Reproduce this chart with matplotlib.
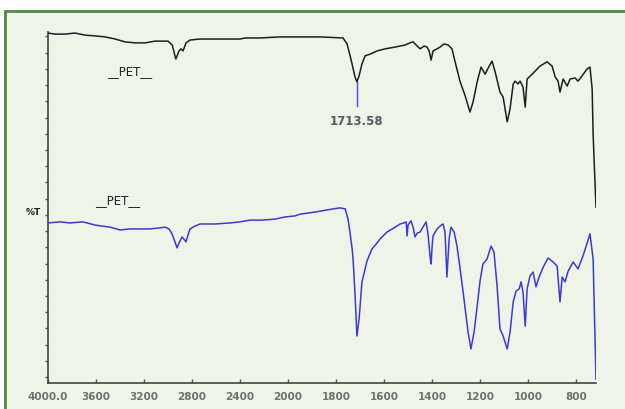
import numpy as np
import matplotlib
matplotlib.use("Agg")
import matplotlib.pyplot as plt
from matplotlib.patches import Rectangle

# ---- data ----
black_wn = [4000, 3940, 3860, 3775, 3690, 3610, 3525, 3440, 3360, 3275, 3190, 3110, 3040, 3000,
            2965, 2935, 2908, 2892, 2875, 2850, 2817, 2733, 2567, 2400, 2358, 2233, 2067, 1950,
            1867, 1771, 1754, 1738, 1721, 1713, 1704, 1692, 1679, 1658, 1629, 1596, 1554, 1512,
            1492, 1479, 1462, 1450, 1433, 1421, 1412, 1404, 1396, 1379, 1367, 1350, 1333,
            1317, 1304, 1283, 1262, 1242, 1229, 1212, 1196, 1179, 1162, 1150, 1137, 1117, 1104,
            1087, 1075, 1062, 1054, 1042, 1033, 1021, 1012, 1004, 983, 950, 921, 900, 887, 875,
            867, 854, 837, 825, 804, 792, 775, 754, 742, 733, 729, 725, 717]
black_t = [99.7, 99.4, 99.4, 99.7, 99.1, 98.9, 98.6, 98.0, 97.2, 96.9, 96.9, 97.4, 97.4, 97.4,
           96.3, 92.3, 94.6, 95.2, 94.6, 96.9, 97.7, 98.0, 98.0, 98.0, 98.3, 98.3, 98.6, 98.6,
           98.6, 98.3, 96.6, 92.3, 87.2, 85.8, 87.5, 90.9, 93.2, 93.7, 94.6, 95.2, 95.7, 96.3,
           96.9, 97.2, 96.0, 95.2, 96.0, 95.7, 94.6, 92.0, 94.6, 95.2, 95.7, 96.6, 96.3,
           95.2, 91.5, 85.8, 81.8, 77.2, 80.1, 85.8, 90.0, 88.0, 90.3, 91.7, 88.6, 82.9, 81.5,
           74.4, 78.1, 85.2, 86.0, 85.2, 86.0, 84.3, 78.6, 86.6, 88.0, 90.3, 91.5, 90.3, 87.2, 86.0,
           82.9, 86.6, 84.6, 86.6, 86.9, 86.0, 87.5, 89.5, 90.0, 83.8, 70.9, 63.8, 50.1]

blue_wn = [4000, 3900, 3817, 3708, 3608, 3483, 3400, 3317, 3233, 3150, 3067, 3025, 2992, 2967,
           2942, 2925, 2908, 2883, 2867, 2850, 2833, 2817, 2775, 2733, 2608, 2483, 2400, 2317,
           2217, 2108, 2025, 1971, 1950, 1888, 1812, 1783, 1762, 1750, 1742, 1733, 1729, 1721,
           1713, 1704, 1692, 1679, 1671, 1650, 1633, 1617, 1588, 1554, 1533, 1517, 1508, 1504,
           1500, 1488, 1479, 1471, 1462, 1450, 1438, 1425, 1417, 1408, 1404, 1400, 1396, 1379,
           1367, 1354, 1346, 1338, 1329, 1321, 1308, 1296, 1283, 1267, 1250, 1238, 1225, 1212,
           1200, 1188, 1171, 1162, 1154, 1142, 1129, 1117, 1104, 1087, 1075, 1062, 1050, 1037,
           1029, 1021, 1012, 1004, 992, 979, 967, 954, 937, 917, 896, 879, 867, 858, 846, 833,
           812, 792, 771, 742, 729, 725, 717]
blue_t = [45.6, 45.9, 45.6, 45.9, 45.0, 44.4, 43.6, 43.9, 43.9, 43.9, 44.2, 44.4, 43.9, 42.5,
          40.2, 38.5, 39.9, 41.6, 41.0, 40.2, 42.2, 43.9, 44.7, 45.3, 45.3, 45.6, 45.9, 46.4,
          46.4, 46.7, 47.3, 47.6, 48.1, 48.7, 49.6, 49.9, 49.6, 46.7, 43.0, 38.2, 35.3, 25.4,
          13.4, 18.2, 28.8, 32.5, 34.8, 38.2, 39.6, 41.0, 43.0, 44.4, 45.3, 45.6, 45.9, 41.9,
          45.0, 46.2, 44.4, 41.6, 42.7, 43.0, 44.4, 45.9, 42.5, 35.9, 33.9, 38.7, 41.9, 43.9,
          44.7, 45.3, 43.0, 30.2, 41.0, 44.4, 43.0, 39.0, 32.5, 23.9, 14.5, 9.7, 14.5, 21.9,
          29.1, 33.9, 35.3, 37.3, 39.0, 37.3, 27.6, 15.4, 13.4, 9.7, 14.5, 23.1, 26.2, 26.8,
          28.8, 25.9, 16.2, 26.8, 30.5, 31.6, 27.4, 30.2, 33.0, 35.6, 34.5, 33.3, 23.1, 30.2, 28.8, 31.9,
          34.5, 32.5, 36.2, 42.5, 35.3, 23.9, 1.1]

x_ticks = [4000, 3600, 3200, 2800, 2400, 2000, 1800, 1600, 1400, 1200, 1000, 800]
x_tick_labels = ["4000.0", "3600", "3200", "2800", "2400", "2000", "1800", "1600",
                 "1400", "1200", "1000", "800"]
peak_wn = 1713.58
peak_label = "1713.58"
trace_labels = ["__PET__", "__PET__"]

# ---- figure ----
BG = "#eff4e9"
fig = plt.figure(figsize=(6.25, 4.10), dpi=100, facecolor="white")
frame = Rectangle((5 / 625, -0.05), 1.2, 0.05 + (410 - 12) / 410,
                  transform=fig.transFigure, facecolor=BG,
                  edgecolor="#4f8a40", linewidth=2.0, zorder=-10)
fig.patches.append(frame)

ax = fig.add_axes([48 / 625, (410 - 384) / 410, (596 - 48) / 625, (384 - 33) / 410])
ax.set_facecolor("none")
ax.set_zorder(5)


def fwd(w):
    w = np.asarray(w, dtype=float)
    return np.where(w >= 2000, w, 2000 - 2 * (2000 - w))


def inv(u):
    u = np.asarray(u, dtype=float)
    return np.where(u >= 2000, u, 2000 - (2000 - u) / 2)


ax.set_xscale("function", functions=(fwd, inv))
ax.set_xlim(4000, 717)
ax.set_ylim(0, 100)

ax.plot(black_wn, black_t, color="#1e1e1e", lw=1.1, zorder=3)
ax.plot(blue_wn, blue_t, color="#3a3ad6", lw=1.1, zorder=3)

# peak marker
ax.plot([peak_wn, peak_wn], [85.8, 78.9], color="#4a4ad8", lw=1.0, zorder=2)
ax.text(peak_wn, 74.9, peak_label, ha="center", va="center", fontsize=8.5,
        color="#5a5a5a", fontweight="semibold")

ax.text(3317, 88.9, trace_labels[0], ha="center", va="center", fontsize=8.5, color="#222222")
ax.text(3417, 52.4, trace_labels[1], ha="center", va="center", fontsize=8.5, color="#222222")

fig.text(33 / 625, 1 - 213 / 410, "%T", ha="center", va="center", fontsize=6.5,
         fontweight="bold", color="#222222", zorder=6)

for s in ["top", "right"]:
    ax.spines[s].set_visible(False)
for s in ["left", "bottom"]:
    ax.spines[s].set_color("#444444")
    ax.spines[s].set_linewidth(1.2)

ax.set_xticks(x_ticks)
ax.set_xticklabels(x_tick_labels)
ax.xaxis.set_minor_locator(matplotlib.ticker.NullLocator())
ax.tick_params(axis="x", direction="in", length=3, width=1, color="#555555",
               labelsize=7.5, labelcolor="#707070", pad=6)
for lab in ax.get_xticklabels():
    lab.set_fontweight("bold")

ax.set_yticks(np.arange(1.7, 100, 4.62))
ax.set_yticklabels([])
ax.tick_params(axis="y", direction="out", length=2.5, width=1, color="#555555")

fig.savefig("out.png", dpi=100, facecolor="white")
